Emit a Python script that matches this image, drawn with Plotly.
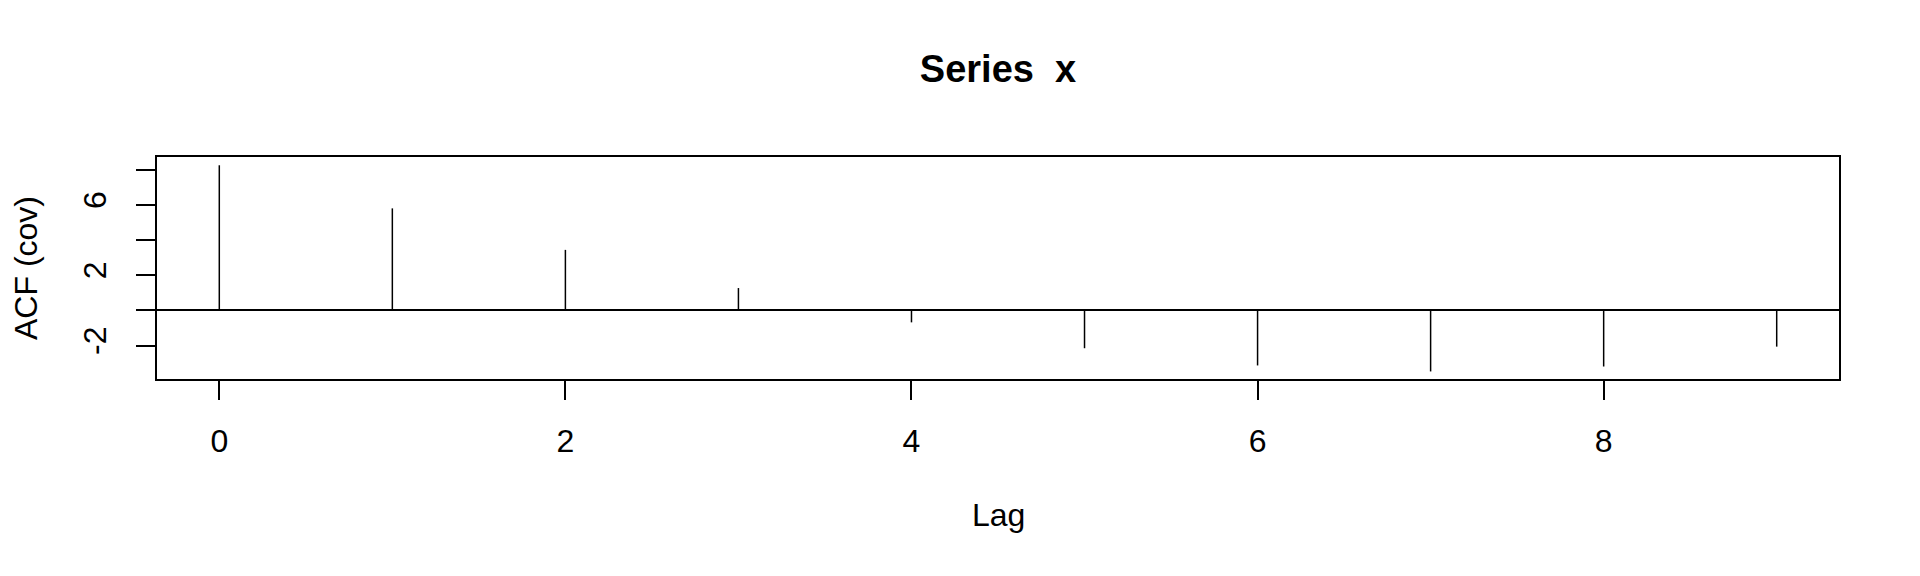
import plotly.graph_objects as go

# Data (autocovariance by lag)
lags = [0, 1, 2, 3, 4, 5, 6, 7, 8, 9]
acf_cov = [8.25, 5.80, 3.44, 1.27, -0.68, -2.15, -3.13, -3.47, -3.19, -2.06]
x_ticks = [0, 2, 4, 6, 8]
y_ticks = [-2, 0, 2, 4, 6, 8]
y_tick_labels = ["-2", "", "2", "", "6", ""]

title_text = "<b>Series  x</b>"
x_title = "Lag"
y_title = "ACF (cov)"

FONT = "Liberation Sans, Arial, Helvetica, sans-serif"

# spikes from 0 to each value
xs, ys = [], []
for lag, v in zip(lags, acf_cov):
    xs += [lag, lag, None]
    ys += [0, v, None]

fig = go.Figure()
fig.add_trace(go.Scatter(x=xs, y=ys, mode="lines",
                         line=dict(color="black", width=1.5),
                         hoverinfo="skip", showlegend=False))

W, H = 1904, 560  # page body has an 8px margin
fig.update_layout(
    width=W, height=H,
    paper_bgcolor="white", plot_bgcolor="white",
    margin=dict(l=149, r=73, t=149, b=189, autoexpand=False),
    font=dict(family=FONT, size=32, color="black"),
    title=dict(text=title_text, x=0.5, xref="paper", xanchor="center",
               y=1 - 60.5 / H, yref="container", yanchor="middle",
               font=dict(family=FONT, size=38, color="black")),
    showlegend=False,
)

fig.update_xaxes(
    range=[-0.36, 9.36], tickmode="array", tickvals=x_ticks,
    ticktext=[str(t) for t in x_ticks],
    showgrid=False, zeroline=False,
    showline=True, mirror=True, linecolor="black", linewidth=2,
    ticks="outside", ticklen=19, tickwidth=1.5, tickcolor="black",
    tickfont=dict(family=FONT, size=32, color="black"),
    ticklabelstandoff=14,
)
fig.update_yaxes(
    range=[-3.9, 8.72], tickmode="array", tickvals=y_ticks,
    ticktext=y_tick_labels, tickangle=-90,
    showgrid=False, zeroline=True, zerolinecolor="black", zerolinewidth=2,
    showline=True, mirror=True, linecolor="black", linewidth=2,
    ticks="outside", ticklen=19, tickwidth=1.5, tickcolor="black",
    tickfont=dict(family=FONT, size=32, color="black"),
    ticklabelstandoff=17,
)

fig.add_annotation(text=x_title, xref="paper", yref="paper", x=0.5, y=0,
                   yshift=-(515 - 379), xanchor="center", yanchor="middle",
                   showarrow=False, font=dict(family=FONT, size=32, color="black"))
fig.add_annotation(text=y_title, xref="paper", yref="paper", x=0, y=0.5,
                   xshift=-131, xanchor="center", yanchor="middle",
                   textangle=-90, showarrow=False,
                   font=dict(family=FONT, size=32, color="black"))

fig.write_html("out.html")
